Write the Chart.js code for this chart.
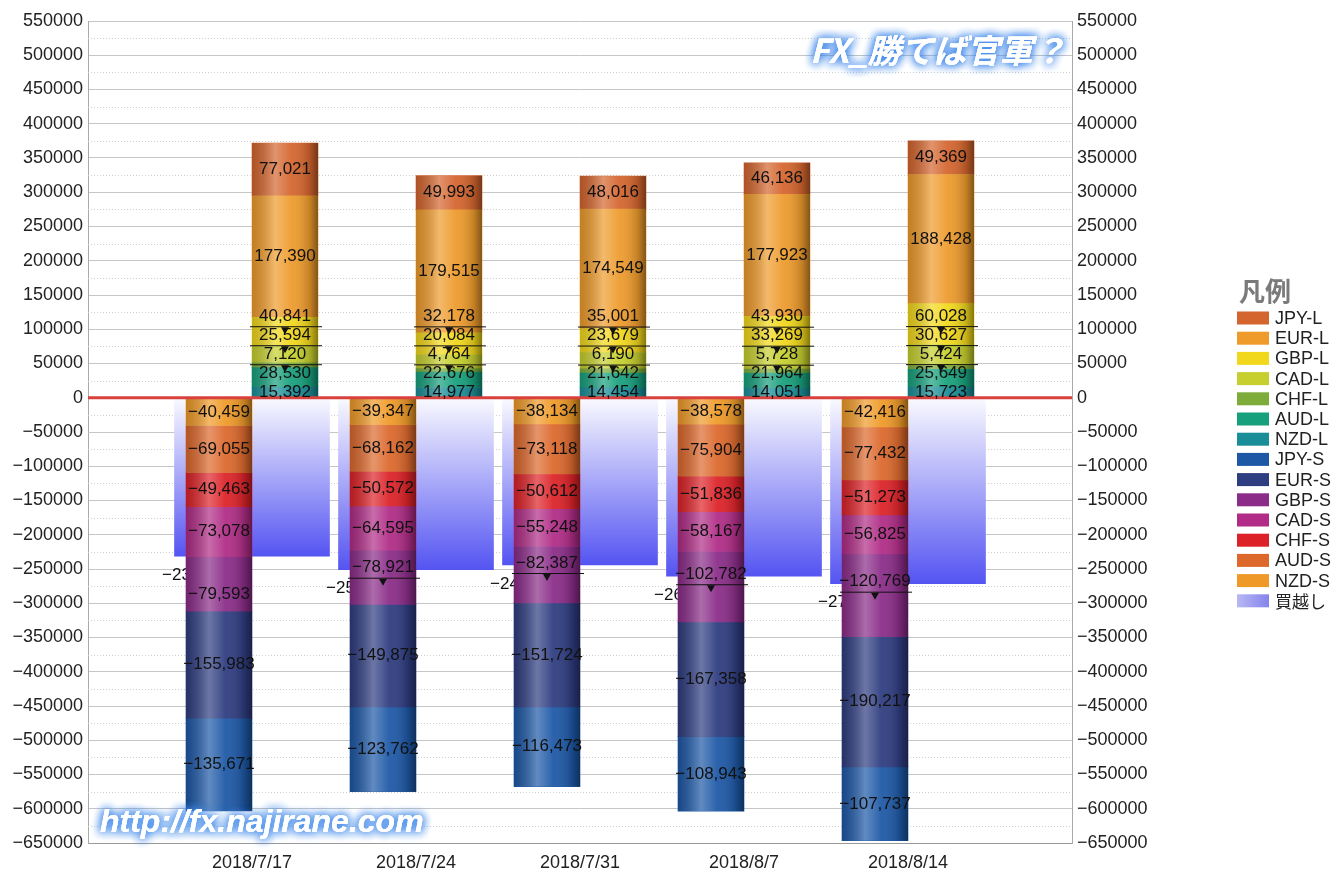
<!DOCTYPE html>
<html>
<head>
<meta charset="utf-8">
<script src="https://cdn.jsdelivr.net/npm/chart.js@4.4.1/dist/chart.umd.min.js"></script>
<style>
  html, body { margin: 0; background: #fff; }
  #wrap { width: 1334px; height: 870px; }
</style>
</head>
<body>
<div id="wrap"><canvas id="cot-chart"></canvas></div>
<script>
// weekly positions (2018)
const dates = ['2018/7/17', '2018/7/24', '2018/7/31', '2018/8/7', '2018/8/14'];

// long positions
const jpyL = [77021, 49993, 48016, 46136, 49369];
const eurL = [177390, 179515, 174549, 177923, 188428];
const gbpL = [40841, 32178, 35001, 43930, 60028];
const cadL = [25594, 20084, 23679, 33269, 30627];
const chfL = [7120, 4764, 6190, 5728, 5424];
const audL = [28530, 22676, 21642, 21964, 25649];
const nzdL = [15392, 14977, 14454, 14051, 15723];

// short positions
const jpyS = [-135671, -123762, -116473, -108943, -107737];
const eurS = [-155983, -149875, -151724, -167358, -190217];
const gbpS = [-79593, -78921, -82387, -102782, -120769];
const cadS = [-73078, -64595, -55248, -58167, -56825];
const chfS = [-49463, -50572, -50612, -51836, -51273];
const audS = [-69055, -68162, -73118, -75904, -77432];
const nzdS = [-40459, -39347, -38134, -38578, -42416];

// net (買越し)
const net = [-231414, -251047, -244165, -260567, -271421];

const FONT = '"Liberation Sans", Arial, sans-serif';
const JP_FONT = '"Noto Sans CJK JP", sans-serif';

// stacking order: first entry sits next to zero
const longSeries = [
    ['NZD-L', nzdL, '#1a8e98'],
    ['AUD-L', audL, '#17a07c'],
    ['CHF-L', chfL, '#7dac3a'],
    ['CAD-L', cadL, '#c6cf2e'],
    ['GBP-L', gbpL, '#f2d81c'],
    ['EUR-L', eurL, '#ee9b2c'],
    ['JPY-L', jpyL, '#d4652e']
];
const shortSeries = [
    ['NZD-S', nzdS, '#ef9a28'],
    ['AUD-S', audS, '#dc682c'],
    ['CHF-S', chfS, '#dc2228'],
    ['CAD-S', cadS, '#b02c86'],
    ['GBP-S', gbpS, '#8a2c88'],
    ['EUR-S', eurS, '#2e3c80'],
    ['JPY-S', jpyS, '#1d58a6']
];
const legendOrder = ['JPY-L', 'EUR-L', 'GBP-L', 'CAD-L', 'CHF-L', 'AUD-L', 'NZD-L',
                     'JPY-S', 'EUR-S', 'GBP-S', 'CAD-S', 'CHF-S', 'AUD-S', 'NZD-S', '買越し'];

// net bars get their own controller type so they are not grouped next to the long/short columns
class NetBarController extends Chart.BarController {}
NetBarController.id = 'netBar';
Chart.register(NetBarController);

// week n sits at x = n on a 0..6 axis
const points = arr => arr.map((v, i) => ({ x: i + 1, y: v }));

const fmt = v => (v < 0 ? '\u2212' : '') + Math.abs(v).toLocaleString('en-US');
const tickFmt = v => (v < 0 ? '\u2212' : '') + Math.abs(v);

const datasets = [];
shortSeries.forEach(([name, arr, color]) => {
    datasets.push({ label: name, data: points(arr), backgroundColor: color, stack: 'S', barThickness: 66, kind: 'S' });
});
longSeries.forEach(([name, arr, color]) => {
    datasets.push({ label: name, data: points(arr), backgroundColor: color, stack: 'L', barThickness: 66, kind: 'L' });
});
datasets.push({
    type: 'netBar',
    label: '買越し',
    data: points(net),
    stack: 'N',
    barThickness: 155,
    kind: 'N',
    order: 1, // drawn first, behind the long/short columns
    backgroundColor: (ctx) => {
        const chart = ctx.chart;
        if (!ctx.raw || !chart.chartArea) return '#8888f0';
        const y = chart.scales.y;
        const g = chart.ctx.createLinearGradient(0, y.getPixelForValue(0), 0, y.getPixelForValue(ctx.raw.y));
        g.addColorStop(0, '#fafaff');
        g.addColorStop(1, '#5454f2');
        return g;
    }
});

const legendColor = {};
[...longSeries, ...shortSeries].forEach(([n, , c]) => legendColor[n] = c);

function metaOf(chart, name) {
    const i = chart.data.datasets.findIndex(d => d.label === name);
    return chart.getDatasetMeta(i);
}

function drawLeader(ctx, el, y) {
    const left = el.x - el.width / 2 - 2;
    const right = el.x + el.width / 2 + 4;
    ctx.strokeStyle = '#111';
    ctx.lineWidth = 1;
    ctx.beginPath();
    ctx.moveTo(left, y + 10.5);
    ctx.lineTo(right, y + 10.5);
    ctx.stroke();
    ctx.fillStyle = '#111';
    ctx.beginPath();
    ctx.moveTo(el.x - 4, y + 11);
    ctx.lineTo(el.x + 4, y + 11);
    ctx.lineTo(el.x, y + 18);
    ctx.closePath();
    ctx.fill();
}

const GAP = 19;

const cotPlugin = {
    id: 'cotPlugin',
    beforeDatasetsDraw(chart) {
        // dotted minor grid between the 50000 lines
        const { ctx, chartArea } = chart;
        const y = chart.scales.y;
        ctx.save();
        ctx.strokeStyle = '#cfcfcf';
        ctx.lineWidth = 1;
        ctx.setLineDash([1, 2]);
        for (let v = y.min + 25000; v < y.max; v += 50000) {
            const py = Math.round(y.getPixelForValue(v)) + 0.5;
            ctx.beginPath();
            ctx.moveTo(chartArea.left, py);
            ctx.lineTo(chartArea.right, py);
            ctx.stroke();
        }
        ctx.restore();
    },
    afterDatasetDraw(chart, args) {
        // net labels go behind the short columns
        const ds = chart.data.datasets[args.index];
        if (ds.kind !== 'N') return;
        const ctx = chart.ctx;
        ctx.save();
        ctx.font = '17px ' + FONT;
        ctx.fillStyle = '#111';
        ctx.textAlign = 'left';
        ctx.textBaseline = 'middle';
        args.meta.data.forEach((el, i) => {
            ctx.fillText(fmt(ds.data[i].y), el.x - 90, el.y + 19);
        });
        ctx.restore();
    },
    afterDatasetsDraw(chart) {
        const { ctx, chartArea } = chart;
        const y = chart.scales.y;
        ctx.save();

        // cylinder shading on the long/short columns
        chart.data.datasets.forEach((ds, di) => {
            if (ds.kind === 'N') return;
            chart.getDatasetMeta(di).data.forEach((el) => {
                const l = el.x - el.width / 2;
                const top = Math.min(el.y, el.base);
                const h = Math.abs(el.y - el.base);
                const g = ctx.createLinearGradient(l, 0, l + el.width, 0);
                g.addColorStop(0, 'rgba(0,0,0,0.18)');
                g.addColorStop(0.35, 'rgba(255,255,255,0.30)');
                g.addColorStop(0.6, 'rgba(255,255,255,0.06)');
                g.addColorStop(0.88, 'rgba(0,0,0,0.18)');
                g.addColorStop(1, 'rgba(0,0,0,0.45)');
                ctx.fillStyle = g;
                ctx.fillRect(l, top, el.width, h);
            });
        });

        // zero line
        const y0 = y.getPixelForValue(0);
        ctx.strokeStyle = '#d8413c';
        ctx.lineWidth = 3;
        ctx.beginPath();
        ctx.moveTo(chartArea.left, y0);
        ctx.lineTo(chartArea.right, y0);
        ctx.stroke();

        // segment labels with simple collision avoidance
        ctx.font = '17px ' + FONT;
        ctx.textAlign = 'center';
        ctx.textBaseline = 'middle';
        const netMeta = metaOf(chart, '買越し');
        for (let i = 0; i < dates.length; i++) {
            // long: push labels upward
            let prev = null;
            longSeries.forEach(([name]) => {
                const meta = metaOf(chart, name);
                const el = meta.data[i];
                const v = chart.data.datasets[meta.index].data[i].y;
                const c = (el.y + el.base) / 2;
                const ly = prev === null ? c : Math.min(c, prev - GAP);
                if (c - ly > 8) drawLeader(ctx, el, ly);
                ctx.fillStyle = '#111';
                ctx.fillText(fmt(v), el.x, ly);
                prev = ly;
            });
            // short: push labels downward, avoid the net label
            const netY = netMeta.data[i].y + 19;
            prev = null;
            shortSeries.forEach(([name]) => {
                const meta = metaOf(chart, name);
                const el = meta.data[i];
                const v = chart.data.datasets[meta.index].data[i].y;
                const c = (el.y + el.base) / 2;
                let ly = prev === null ? c : Math.max(c, prev + GAP);
                if (Math.abs(ly - netY) < GAP) ly = c < netY ? netY - GAP - 2 : netY + GAP;
                if (c - ly > 8) drawLeader(ctx, el, ly);
                ctx.fillStyle = '#111';
                ctx.fillText(fmt(v), el.x, ly);
                prev = ly;
            });
        }
        ctx.restore();
    },
    afterDraw(chart) {
        const ctx = chart.ctx;
        ctx.save();

        // watermarks
        const glow = (text, x, yb, font) => {
            ctx.font = font;
            ctx.textAlign = 'left';
            ctx.textBaseline = 'alphabetic';
            ctx.shadowColor = 'rgba(70,140,235,0.95)';
            ctx.shadowBlur = 10;
            ctx.fillStyle = '#ffffff';
            for (let k = 0; k < 3; k++) ctx.fillText(text, x, yb);
            ctx.shadowBlur = 0;
            ctx.fillText(text, x, yb);
        };
        glow('FX_勝てば官軍？', 810, 63, 'italic bold 33px ' + JP_FONT);
        glow('http://fx.najirane.com', 100, 832, 'italic bold 32px ' + FONT);

        // legend
        const lx = 1237;
        ctx.shadowBlur = 0;
        ctx.fillStyle = '#7a7a7a';
        ctx.font = 'bold 26px ' + JP_FONT;
        ctx.textAlign = 'left';
        ctx.textBaseline = 'middle';
        ctx.fillText('凡例', lx + 2, 291);
        legendOrder.forEach((name, k) => {
            const ry = 318 + k * 20.2;
            if (name === '買越し') {
                const g = ctx.createLinearGradient(lx, 0, lx + 32, 0);
                g.addColorStop(0, '#b8b8f4');
                g.addColorStop(1, '#8484ec');
                ctx.fillStyle = g;
            } else {
                ctx.fillStyle = legendColor[name];
            }
            ctx.fillRect(lx, ry - 6.5, 32, 13);
            ctx.fillStyle = '#222';
            ctx.font = (name === '買越し' ? '17px ' + JP_FONT : '18px ' + FONT);
            ctx.fillText(name, lx + 38, ry + 1);
        });
        ctx.restore();
    }
};

const tickFont = { family: FONT, size: 18 };

new Chart(document.getElementById('cot-chart'), {
    type: 'bar',
    data: { datasets },
    options: {
        responsive: true,
        maintainAspectRatio: false,
        animation: false,
        devicePixelRatio: 1,
        layout: { padding: { top: 21, right: 182, left: 0, bottom: 0 } },
        plugins: {
            legend: { display: false },
            tooltip: { enabled: false }
        },
        scales: {
            x: {
                type: 'linear',
                min: 0,
                max: 6,
                offset: false,
                grid: { display: false, offset: false },
                border: { color: '#999' },
                ticks: {
                    stepSize: 1, font: tickFont, color: '#222', padding: 1, maxRotation: 0, autoSkip: false,
                    callback: v => dates[v - 1] || ''
                },
                afterFit: (s) => { s.height = 27; }
            },
            y: {
                position: 'left',
                stacked: true,
                min: -650000,
                max: 550000,
                grid: { color: '#c6c6c6', drawTicks: false },
                border: { color: '#aaa' },
                ticks: { stepSize: 50000, autoSkip: false, font: tickFont, color: '#222', padding: 5, callback: tickFmt },
                afterFit: (s) => { s.width = 88; }
            },
            y2: {
                position: 'right',
                min: -650000,
                max: 550000,
                grid: { drawOnChartArea: false, drawTicks: false },
                border: { color: '#aaa' },
                ticks: { stepSize: 50000, autoSkip: false, font: tickFont, color: '#222', padding: 5, callback: tickFmt },
                afterFit: (s) => { s.width = 80; }
            }
        }
    },
    plugins: [cotPlugin]
});
</script>
</body>
</html>
